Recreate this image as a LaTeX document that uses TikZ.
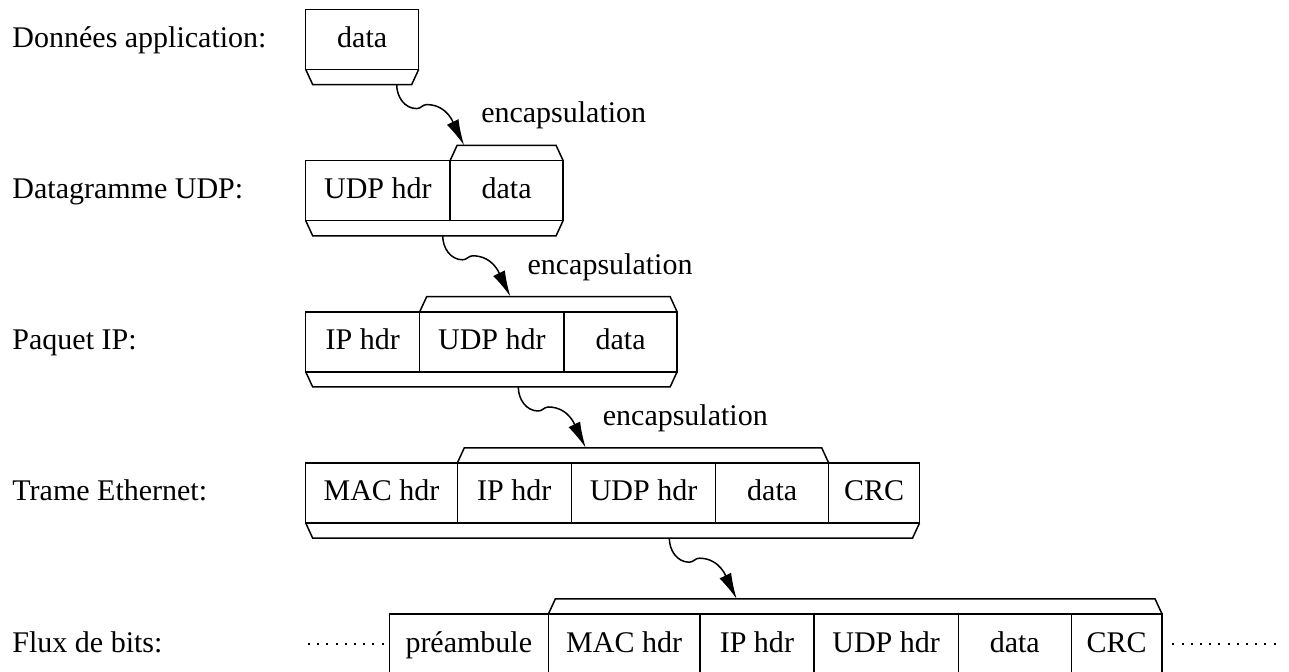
\documentclass[tikz,border=0pt]{standalone}
\usepackage{fontspec}
\setmainfont{Liberation Serif}
\usetikzlibrary{arrows.meta,calc,positioning}
\tikzset{%
	field/.style = {draw, rectangle, minimum width=#1, minimum height=30pt, inner sep=0pt, outer sep=0pt, text height=10.9pt, text depth=3pt}, % one cell of a packet
	layer/.style = {anchor=west, inner sep=0pt, text height=10.9pt, text depth=3pt}, % row caption
	encap/.style = {anchor=base west, inner sep=0pt, xshift=8.2pt, yshift=11.2pt}, % arrow caption
	wire/.style  = {line width=0.85pt, dash pattern=on 1pt off 3.6pt}, % bit stream
}

\begin{document}
\begin{tikzpicture}[line width=0.75pt,>={Latex[length=13pt,width=6.5pt]},font=\fontsize{15pt}{18pt}\selectfont]
	\useasboundingbox (0,0) rectangle (644.5pt,-336pt);
	\clip (0,0) rectangle (644.5pt,-336pt);

	% row captions
	\node [layer] (l1) at (5.85pt,-19.7pt) {Données application:};
	\node [layer] (l2) at (5.85pt,-95.3pt) {Datagramme UDP:};
	\node [layer] (l3) at (5.85pt,-170.9pt) {Paquet IP:};
	\node [layer] (l4) at (5.85pt,-246.5pt) {Trame Ethernet:};
	\node [layer] (l5) at (5.85pt,-322.1pt) {Flux de bits:};

	% packets
	\node [field=56.5pt,anchor=north west] (d1) at (152.85pt,-4.7pt) {data};

	\node [field=72.2pt,anchor=north west] (udp2) at (152.85pt,-80.3pt) {UDP hdr};
	\node [field=56.5pt] (d2) [right=0pt of udp2] {data};

	\node [field=57pt,anchor=north west] (ip3) at (152.85pt,-155.9pt) {IP hdr};
	\node [field=72.2pt] (udp3) [right=0pt of ip3] {UDP hdr};
	\node [field=56.5pt] (d3) [right=0pt of udp3] {data};

	\node [field=75.8pt,anchor=north west] (mac4) at (152.85pt,-231.5pt) {MAC hdr};
	\node [field=57pt] (ip4) [right=0pt of mac4] {IP hdr};
	\node [field=72.2pt] (udp4) [right=0pt of ip4] {UDP hdr};
	\node [field=56.5pt] (d4) [right=0pt of udp4] {data};
	\node [field=45.4pt] (crc4) [right=0pt of d4] {CRC};

	\node [field=79.5pt,anchor=north west] (pre5) at (194.65pt,-307.1pt) {préambule};
	\node [field=75.8pt] (mac5) [right=0pt of pre5] {MAC hdr};
	\node [field=57pt] (ip5) [right=0pt of mac5] {IP hdr};
	\node [field=72.2pt] (udp5) [right=0pt of ip5] {UDP hdr};
	\node [field=56.5pt] (d5) [right=0pt of udp5] {data};
	\node [field=45.4pt] (crc5) [right=0pt of d5] {CRC};

	% lids
	\draw (d1.south west) -- ++(3.5pt,-7.6pt) -- ($(d1.south east)+(-3.5pt,-7.6pt)$) -- (d1.south east);
	\draw (d2.north west) -- ++(3.5pt,7.6pt) -- ($(d2.north east)+(-3.5pt,7.6pt)$) -- (d2.north east);
	\draw (udp2.south west) -- ++(3.5pt,-7.6pt) -- ($(d2.south east)+(-3.5pt,-7.6pt)$) -- (d2.south east);
	\draw (udp3.north west) -- ++(3.5pt,7.6pt) -- ($(d3.north east)+(-3.5pt,7.6pt)$) -- (d3.north east);
	\draw (ip3.south west) -- ++(3.5pt,-7.6pt) -- ($(d3.south east)+(-3.5pt,-7.6pt)$) -- (d3.south east);
	\draw (ip4.north west) -- ++(3.5pt,7.6pt) -- ($(d4.north east)+(-3.5pt,7.6pt)$) -- (d4.north east);
	\draw (mac4.south west) -- ++(3.5pt,-7.6pt) -- ($(crc4.south east)+(-3.5pt,-7.6pt)$) -- (crc4.south east);
	\draw (mac5.north west) -- ++(3.5pt,7.6pt) -- ($(crc5.north east)+(-3.5pt,7.6pt)$) -- (crc5.north east);

	% bit stream
	\draw [wire] ($(pre5.west)+(-40.65pt,0)$) -- ($(pre5.west)+(-2.9pt,0)$);
	\draw [wire] ($(crc5.east)+(5.15pt,0)$) -- ($(crc5.east)+(57.3pt,0)$);

	% encapsulation
	\coordinate (s1) at ($(d1.south west)+(45.5pt,-7.6pt)$);
	\coordinate (t1) at ($(d2.north west)+(7pt,7.6pt)$);
	\coordinate (s2) at ($(udp2.south west)+(68.5pt,-7.6pt)$);
	\coordinate (t2) at ($(udp3.north west)+(45.35pt,7.6pt)$);
	\coordinate (s3) at ($(ip3.south west)+(106.3pt,-7.6pt)$);
	\coordinate (t3) at ($(ip4.north west)+(64.2pt,7.6pt)$);
	\coordinate (s4) at ($(mac4.south west)+(181.8pt,-7.6pt)$);
	\coordinate (t4) at ($(mac5.north west)+(94.2pt,7.6pt)$);

	\foreach \i in {1,2,3}
		\draw[->] (s\i) to[out=-90,in=180] ++(10pt,-12pt) to[out=0,in=180] ++(5pt,2pt) to[out=0,in=116] (t\i) node[encap] (e\i) {encapsulation};
	\draw[->] (s4) to[out=-90,in=180] ++(10pt,-12pt) to[out=0,in=180] ++(5pt,2pt) to[out=0,in=116] (t4);
\end{tikzpicture}
\end{document}
